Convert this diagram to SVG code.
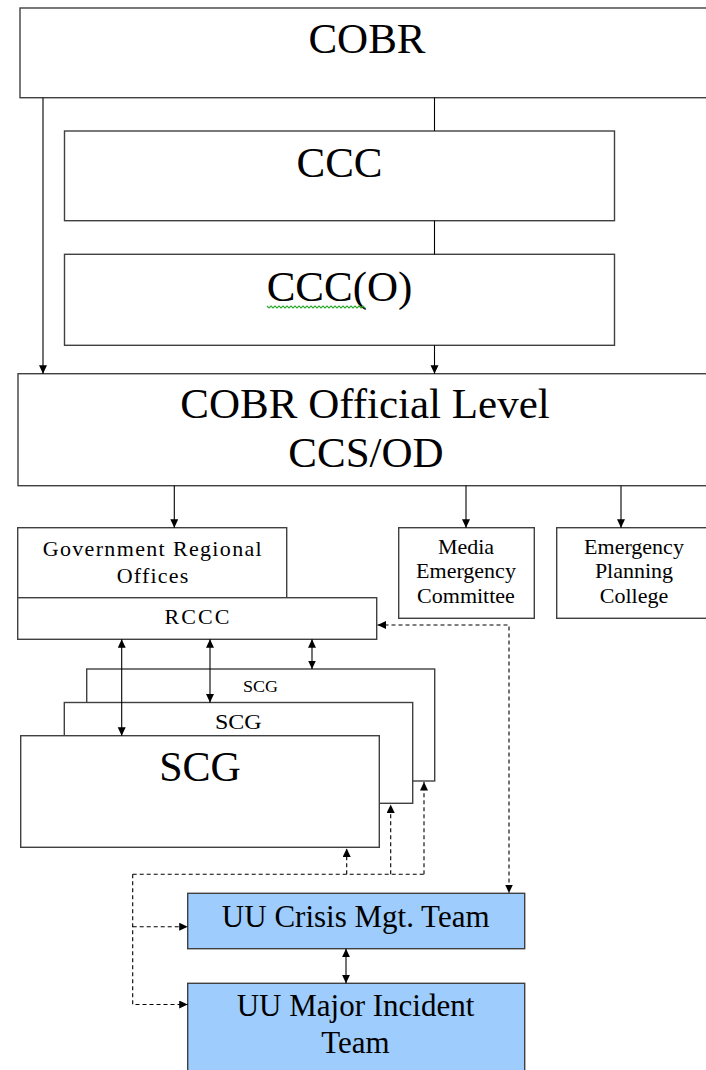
<svg xmlns="http://www.w3.org/2000/svg" width="706" height="1070" viewBox="0 0 706 1070">
<style>
.box{fill:#fff;stroke:#404040;stroke-width:1.4}
.blue{fill:#9DCCFD;stroke:#404040;stroke-width:1.4}
text{font-family:'Liberation Serif','DejaVu Serif',serif;fill:#000;text-anchor:middle}
.big{font-size:43px}
.mid{font-size:22px}
.uu{font-size:31px}
.ln{stroke:#000;stroke-width:1.1;fill:none}
.ds{stroke:#000;stroke-width:1.1;fill:none;stroke-dasharray:4 3}
</style>
<defs>
<marker id="ah" markerUnits="userSpaceOnUse" markerWidth="10" markerHeight="9" refX="8.5" refY="4" orient="auto-start-reverse">
<path d="M0,0 L8.5,4 L0,8 z" fill="#000"/>
</marker>
</defs>
<g font-family="Liberation Serif, DejaVu Serif, serif">
<g id="cobr">
<rect class="box" x="20" y="8" width="700" height="89.7"/>
<text class="big" x="367" y="52.7">COBR</text>
</g>
<g id="ccc">
<rect class="box" x="64.5" y="131" width="550" height="89.7"/>
<text class="big" x="339.5" y="176.7">CCC</text>
</g>
<g id="ccco">
<rect class="box" x="64.5" y="254.3" width="550" height="91"/>
<text class="big" x="339.5" y="300.7">CCC(O)</text>
<path d="M267,306 l2,2 l2,-2 l2,2 l2,-2 l2,2 l2,-2 l2,2 l2,-2 l2,2 l2,-2 l2,2 l2,-2 l2,2 l2,-2 l2,2 l2,-2 l2,2 l2,-2 l2,2 l2,-2 l2,2 l2,-2 l2,2 l2,-2 l2,2 l2,-2 l2,2 l2,-2 l2,2 l2,-2 l2,2 l2,-2 l2,2 l2,-2 l2,2 l2,-2 l2,2 l2,-2 l2,2 l2,-2 l2,2 l2,-2 l2,2 l2,-2 l2,2 l2,-2 l2,2 l2,-2 l2,2" fill="none" stroke="#2FA82F" stroke-width="1.1"/>
</g>
<g id="cobr-official">
<rect class="box" x="18" y="373.7" width="700" height="112"/>
<text class="big" x="365" y="418.3">COBR Official Level</text>
<text class="big" x="366" y="466.7">CCS/OD</text>
</g>
<g id="gro">
<rect class="box" x="17.7" y="527.7" width="269" height="70"/>
<text class="mid" x="152.2" y="555.7" textLength="219" lengthAdjust="spacing">Government Regional</text>
<text class="mid" x="152.5" y="583.3" textLength="71.6" lengthAdjust="spacing">Offices</text>
</g>
<g id="rccc">
<rect class="box" x="17.7" y="597.7" width="359" height="41.6"/>
<text class="mid" x="197" y="624.3" textLength="65" lengthAdjust="spacing">RCCC</text>
</g>
<g id="media">
<rect class="box" x="398.7" y="527.7" width="135.6" height="90.6"/>
<text class="mid" x="466" y="554">Media</text>
<text class="mid" x="466" y="578.3">Emergency</text>
<text class="mid" x="466" y="602.7">Committee</text>
</g>
<g id="epc">
<rect class="box" x="556.7" y="527.7" width="160" height="90.6"/>
<text class="mid" x="634" y="554">Emergency</text>
<text class="mid" x="634" y="578.3">Planning</text>
<text class="mid" x="634" y="603">College</text>
</g>
<g id="scg-back">
<rect class="box" x="86.7" y="669" width="348" height="112"/>
<text style="font-size:16px" x="260.5" y="691.7" textLength="35" lengthAdjust="spacingAndGlyphs">SCG</text>
</g>
<g id="scg-mid">
<rect class="box" x="64.3" y="702.5" width="348.4" height="100.8"/>
<text style="font-size:22px" x="238.3" y="729.3" textLength="46.7" lengthAdjust="spacingAndGlyphs">SCG</text>
</g>
<g id="scg-front">
<rect class="box" x="20.7" y="735.7" width="358.6" height="111.6"/>
<text style="font-size:42px" x="200" y="781">SCG</text>
</g>
<g id="uu-crisis">
<rect class="blue" x="187.7" y="893.3" width="337" height="55.4"/>
<text class="uu" x="355.7" y="927.3">UU Crisis Mgt. Team</text>
</g>
<g id="uu-major">
<rect class="blue" x="187.7" y="983.3" width="337" height="100"/>
<text class="uu" x="355.5" y="1015.7">UU Major Incident</text>
<text class="uu" x="355.5" y="1052.7">Team</text>
</g>
</g>
<g id="connectors">
<path class="ln" d="M43,97.7 V373.7" marker-end="url(#ah)"/>
<path class="ln" d="M434.5,97.7 V131"/>
<path class="ln" d="M434.5,220.7 V254.3"/>
<path class="ln" d="M434.5,345.3 V373.7" marker-end="url(#ah)"/>
<path class="ln" d="M174.3,485.7 V527.7" marker-end="url(#ah)"/>
<path class="ln" d="M466,485.7 V527.7" marker-end="url(#ah)"/>
<path class="ln" d="M621,485.7 V527.7" marker-end="url(#ah)"/>
<path class="ln" d="M121.7,639.3 V735.7" marker-start="url(#ah)" marker-end="url(#ah)"/>
<path class="ln" d="M210,639.3 V702.5" marker-start="url(#ah)" marker-end="url(#ah)"/>
<path class="ln" d="M312,639.3 V669" marker-start="url(#ah)" marker-end="url(#ah)"/>
<path class="ds" d="M377.5,625 H509 V893" marker-start="url(#ah)" marker-end="url(#ah)"/>
<path class="ds" d="M132.7,874.3 H424"/>
<path class="ds" d="M346.7,874.3 V848.5" marker-end="url(#ah)"/>
<path class="ds" d="M390.7,874.3 V804.5" marker-end="url(#ah)"/>
<path class="ds" d="M424,874.3 V782" marker-end="url(#ah)"/>
<path class="ds" d="M132.7,874.3 V1004.5 H187.7" marker-end="url(#ah)"/>
<path class="ds" d="M132.7,926.7 H187.7" marker-end="url(#ah)"/>
<path class="ln" d="M346,948.7 V983.3" marker-start="url(#ah)" marker-end="url(#ah)"/>
</g>
</svg>
